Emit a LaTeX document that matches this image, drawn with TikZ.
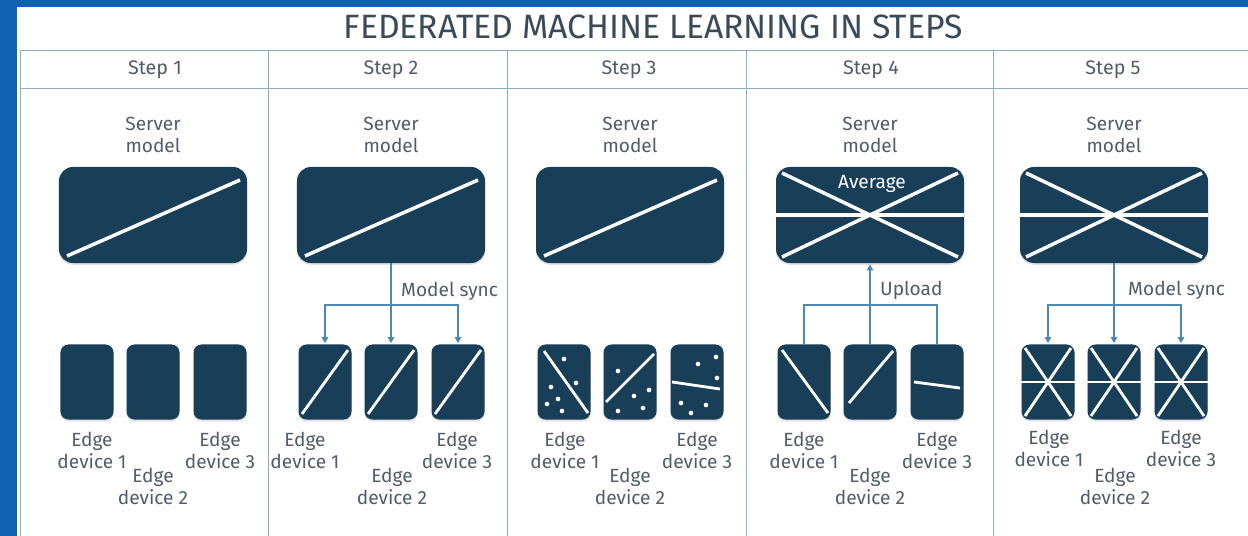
\documentclass[tikz,border=0pt]{standalone}
\usepackage{fontspec}
\setmainfont{Fira Sans}
\usetikzlibrary{calc,arrows.meta,shadows}
\definecolor{bgblue}{RGB}{16,96,180}
\definecolor{boxnavy}{RGB}{24,62,88}
\definecolor{gridblue}{RGB}{140,175,198}
\definecolor{txtgray}{RGB}{80,92,104}
\definecolor{titlegray}{RGB}{58,74,88}
\definecolor{linkblue}{RGB}{78,136,176}
\tikzset{
  srvbox/.style={fill=boxnavy, rounded corners=0.42cm, minimum width=5.64cm, minimum height=2.88cm, inner sep=0pt,
    drop shadow={shadow xshift=0pt, shadow yshift=-1.5pt, opacity=.25}},
  devbox/.style={fill=boxnavy, rounded corners=0.24cm, minimum width=1.59cm, minimum height=2.25cm, inner sep=0pt,
    drop shadow={shadow xshift=0pt, shadow yshift=-1.5pt, opacity=.25}},
  grid/.style={draw=gridblue, line width=0.6pt},
  cut/.style={white, line width=2.4pt},
  bigcut/.style={white, line width=3pt},
  lbl/.style={align=center, text=txtgray, inner sep=0pt, font=\fontsize{16.3}{18.8}\selectfont},
  steptext/.style={text=txtgray, inner sep=0pt, font=\fontsize{16.8}{19}\selectfont},
  conn/.style={draw=linkblue, line width=0.9pt},
  tip/.style={-{Triangle[length=5pt,width=5.5pt]}, shorten >=1pt}
}
\begin{document}
\begin{tikzpicture}[x=0.03cm, y=-0.03cm]
\useasboundingbox (0,0) rectangle (1248,536);
\fill[bgblue] (0,0) rectangle (1248,536);
\fill[white] (17,7) rectangle (1248,536);

% table
\draw[grid] (20,536) -- (20,50) -- (1248,50);
\draw[grid] (20,88) -- (1248,88);
\draw[grid] (268,50) -- (268,536);
\draw[grid] (507,50) -- (507,536);
\draw[grid] (746,50) -- (746,536);
\draw[grid] (993,50) -- (993,536);

\node[text=titlegray, font=\fontsize{28.8}{32}\selectfont] (title) at (653,27) {FEDERATED MACHINE LEARNING IN STEPS};
\node[steptext] (step1) at (155,70) {Step 1};
\node[steptext] (step2) at (391,70) {Step 2};
\node[steptext] (step3) at (629,70) {Step 3};
\node[steptext] (step4) at (871,70) {Step 4};
\node[steptext] (step5) at (1113,70) {Step 5};

% servers
\node[lbl] (srvlbl1) at (153,135) {Server\\model};
\node[lbl] (srvlbl2) at (391,135) {Server\\model};
\node[lbl] (srvlbl3) at (630,135) {Server\\model};
\node[lbl] (srvlbl4) at (870,135) {Server\\model};
\node[lbl] (srvlbl5) at (1114,135) {Server\\model};
\node[srvbox] (srv1) at (153,215) {};
\node[srvbox] (srv2) at (391,215) {};
\node[srvbox] (srv3) at (630,215) {};
\node[srvbox] (srv4) at (870,215) {};
\node[srvbox] (srv5) at (1114,215) {};
\draw[bigcut] ($(srv1)+(-86,41)$) -- ($(srv1)+(87,-35)$);
\draw[bigcut] ($(srv2)+(-86,41)$) -- ($(srv2)+(87,-35)$);
\draw[bigcut] ($(srv3)+(-86,41)$) -- ($(srv3)+(87,-35)$);
\draw[bigcut] ($(srv4)+(-88,-42)$) -- ($(srv4)+(88,42)$);
\draw[bigcut] ($(srv4)+(-88,42)$) -- ($(srv4)+(88,-42)$);
\draw[bigcut] (srv4.west) -- (srv4.east);
\node[text=white, font=\fontsize{16.3}{19}\selectfont] (avg) at (872,184) {Average};
\draw[bigcut] ($(srv5)+(-88,-42)$) -- ($(srv5)+(88,42)$);
\draw[bigcut] ($(srv5)+(-88,42)$) -- ($(srv5)+(88,-42)$);
\draw[bigcut] (srv5.west) -- (srv5.east);

% devices
\node[devbox] (dev11) at (87,382) {};
\node[devbox] (dev12) at (153,382) {};
\node[devbox] (dev13) at (220,382) {};
\node[devbox] (dev21) at (325,382) {};
\node[devbox] (dev22) at (391,382) {};
\node[devbox] (dev23) at (458,382) {};
\node[devbox] (dev31) at (564,382) {};
\node[devbox] (dev32) at (630,382) {};
\node[devbox] (dev33) at (697,382) {};
\node[devbox] (dev41) at (804,382) {};
\node[devbox] (dev42) at (870,382) {};
\node[devbox] (dev43) at (937,382) {};
\node[devbox] (dev51) at (1048,382) {};
\node[devbox] (dev52) at (1114,382) {};
\node[devbox] (dev53) at (1181,382) {};

% step 2 local copies
\draw[cut] ($(dev21)+(-23,32)$) -- ($(dev21)+(23,-32)$);
\draw[cut] ($(dev22)+(-23,32)$) -- ($(dev22)+(23,-32)$);
\draw[cut] ($(dev23)+(-23,32)$) -- ($(dev23)+(23,-32)$);

% step 3 local data and training
\draw[cut] ($(dev31)+(-20,-31)$) -- ($(dev31)+(24,31)$);
\draw[cut] ($(dev32)+(-24,20)$) -- ($(dev32)+(24,-28)$);
\draw[cut] ($(dev33)+(-25,0)$) -- ($(dev33)+(23,7)$);
\fill[white] ($(dev31)+(0,-23)$) circle (2pt) ($(dev31)+(-13,5)$) circle (2pt) ($(dev31)+(12,1)$) circle (2pt)
  ($(dev31)+(-6,17)$) circle (2pt) ($(dev31)+(-17,22)$) circle (2pt) ($(dev31)+(-2,29)$) circle (2pt);
\fill[white] ($(dev32)+(-12,-11)$) circle (2pt) ($(dev32)+(4,14)$) circle (2pt) ($(dev32)+(19,8)$) circle (2pt)
  ($(dev32)+(13,26)$) circle (2pt) ($(dev32)+(-12,29)$) circle (2pt);
\fill[white] ($(dev33)+(1,-18)$) circle (2pt) ($(dev33)+(19,-25)$) circle (2pt) ($(dev33)+(20,-4)$) circle (2pt)
  ($(dev33)+(-16,21)$) circle (2pt) ($(dev33)+(-6,31)$) circle (2pt) ($(dev33)+(9,23)$) circle (2pt);

% step 4 trained models
\draw[cut] ($(dev41)+(-22,-32)$) -- ($(dev41)+(24,31)$);
\draw[cut] ($(dev42)+(-21,21)$) -- ($(dev42)+(23,-31)$);
\draw[cut] ($(dev43)+(-23,0)$) -- ($(dev43)+(23,6)$);

% step 5 averaged model
\draw[cut] ($(dev51)+(-23,-34)$) -- ($(dev51)+(23,34)$);
\draw[cut] ($(dev51)+(-23,34)$) -- ($(dev51)+(23,-34)$);
\draw[cut] (dev51.west) -- (dev51.east);
\draw[cut] ($(dev52)+(-23,-34)$) -- ($(dev52)+(23,34)$);
\draw[cut] ($(dev52)+(-23,34)$) -- ($(dev52)+(23,-34)$);
\draw[cut] (dev52.west) -- (dev52.east);
\draw[cut] ($(dev53)+(-23,-34)$) -- ($(dev53)+(23,34)$);
\draw[cut] ($(dev53)+(-23,34)$) -- ($(dev53)+(23,-34)$);
\draw[cut] (dev53.west) -- (dev53.east);

% labels
\node[lbl] (lbl11) at (92,450) {Edge\\device 1};
\node[lbl] (lbl12) at (153,486) {Edge\\device 2};
\node[lbl] (lbl13) at (220,450) {Edge\\device 3};
\node[lbl] (lbl21) at (305,450) {Edge\\device 1};
\node[lbl] (lbl22) at (392,486) {Edge\\device 2};
\node[lbl] (lbl23) at (457,450) {Edge\\device 3};
\node[lbl] (lbl31) at (565,450) {Edge\\device 1};
\node[lbl] (lbl32) at (630,486) {Edge\\device 2};
\node[lbl] (lbl33) at (697,450) {Edge\\device 3};
\node[lbl] (lbl41) at (804,450) {Edge\\device 1};
\node[lbl] (lbl42) at (870,486) {Edge\\device 2};
\node[lbl] (lbl43) at (937,450) {Edge\\device 3};
\node[lbl] (lbl51) at (1049,448) {Edge\\device 1};
\node[lbl] (lbl52) at (1115,486) {Edge\\device 2};
\node[lbl] (lbl53) at (1181,448) {Edge\\device 3};

% connectors
\coordinate (j2) at (391,305);
\coordinate (j4) at (870,305);
\coordinate (j5) at (1114,305);
\draw[conn, tip] (srv2.south) -- (dev22.north);
\draw[conn, tip] (j2) -| (dev21.north);
\draw[conn, tip] (j2) -| (dev23.north);
\node[lbl, anchor=west] (sync2) at (401,291) {Model sync};
\draw[conn] (dev41.north) |- (j4) -| (dev43.north);
\draw[conn, tip] (dev42.north) -- (srv4.south);
\node[lbl, anchor=west] (upload) at (880,290) {Upload};
\draw[conn, tip] (srv5.south) -- (dev52.north);
\draw[conn, tip] (j5) -| (dev51.north);
\draw[conn, tip] (j5) -| (dev53.north);
\node[lbl, anchor=west] (sync5) at (1128,290) {Model sync};
\end{tikzpicture}
\end{document}
